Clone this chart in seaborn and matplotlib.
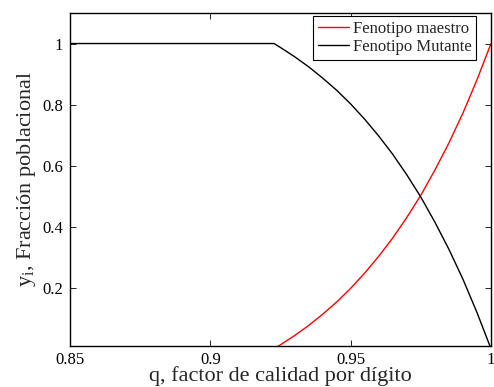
import numpy as np
import pandas as pd
import matplotlib
matplotlib.use("Agg")
import matplotlib.pyplot as plt
import seaborn as sns

# Quality factor per digit (q) and stationary population fractions
q_master = [0.9227, 0.925, 0.93, 0.935, 0.94, 0.945, 0.95, 0.955, 0.96, 0.965,
            0.97, 0.975, 0.98, 0.985, 0.99, 0.995, 1.0]
y_master = [0.0, 0.013, 0.043, 0.076, 0.113, 0.153, 0.198, 0.248, 0.303, 0.363,
            0.430, 0.503, 0.585, 0.674, 0.772, 0.881, 1.0]

q_mutant = [0.85, 0.90, 0.92] + q_master
y_mutant = [1.0, 1.0, 1.0] + [1.0 - v for v in y_master]

series_names = ["Fenotipo maestro", "Fenotipo Mutante"]
series_colors = ["#ff0000", "#000000"]

x_ticks = [0.85, 0.9, 0.95, 1.0]
x_tick_labels = ["0.85", "0.9", "0.95", "1"]
y_ticks = [0.2, 0.4, 0.6, 0.8, 1.0]
y_tick_labels = ["0.2", "0.4", "0.6", "0.8", "1"]

df = pd.concat([
    pd.DataFrame({"q": q_master, "y": y_master, "serie": series_names[0]}),
    pd.DataFrame({"q": q_mutant, "y": y_mutant, "serie": series_names[1]}),
], ignore_index=True)

sns.set_style("ticks")
plt.rcParams["font.family"] = ["Liberation Serif", "DejaVu Serif"]
plt.rcParams["mathtext.fontset"] = "custom"
plt.rcParams["mathtext.rm"] = "Liberation Serif"
plt.rcParams["mathtext.it"] = "Liberation Serif"

fig = plt.figure(figsize=(4.94, 3.87), dpi=100)
ax = fig.add_axes([0.1417, 0.1067, 0.8522, 0.8597])

sns.lineplot(data=df, x="q", y="y", hue="serie", hue_order=series_names,
             palette=series_colors, ax=ax, linewidth=1.0, sort=False,
             estimator=None)

ax.set_xlim(0.85, 1.0)
ax.set_ylim(0.01, 1.1)
ax.set_xticks(x_ticks)
ax.set_xticklabels(x_tick_labels)
ax.set_yticks(y_ticks)
ax.set_yticklabels(y_tick_labels)
ax.tick_params(axis="x", pad=4.5)
ax.tick_params(direction="in", top=True, right=True, labelsize=12,
               length=4, width=0.6, colors="black")
ax.tick_params(axis="y", pad=5)
for side in ax.spines.values():
    side.set_visible(True)
    side.set_linewidth(1.0)
    side.set_color("black")

ax.set_xlabel("q, factor de calidad por dígito", fontsize=16, labelpad=-1)
ax.set_ylabel(r"y$_{\mathrm{i}}$, Fracción poblacional", fontsize=16, labelpad=3)

leg = ax.legend(loc="upper right", fontsize=12, frameon=True, fancybox=False,
                edgecolor="black", framealpha=1, borderpad=0.3,
                handlelength=1.9, handletextpad=0.2, labelspacing=0.1,
                borderaxespad=0.0, bbox_to_anchor=(0.965, 0.99))
leg.get_frame().set_linewidth(0.8)

fig.savefig("out.png", dpi=100)
